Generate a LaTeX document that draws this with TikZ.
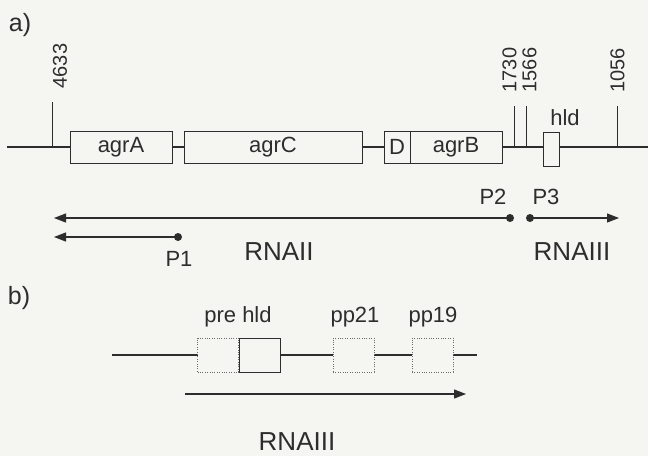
\documentclass[tikz,border=0pt]{standalone}
\usepackage{fontspec}
\setmainfont{Liberation Sans}
\usetikzlibrary{arrows.meta}
\definecolor{bg}{RGB}{245,245,242}
\definecolor{ink}{RGB}{45,45,45}
\newcommand\lblfont{\fontsize{22}{24}\selectfont}
\newcommand\numfont{\fontsize{20}{22}\selectfont}
\newcommand\rnafont{\fontsize{26}{28}\selectfont}
\newcommand\partfont{\fontsize{25}{27}\selectfont}
\begin{document}
\begin{tikzpicture}[x=1pt,y=-1pt,
  line/.style={draw=ink, line width=1.2pt},
  gene/.style={draw=ink, fill=bg, line width=1pt, minimum height=32pt, inner sep=0pt, font=\lblfont, text=ink},
  dotbox/.style={draw=ink!70, fill=bg, line width=0.8pt, dash pattern=on 1pt off 1.4pt, minimum width=41pt, minimum height=34pt, inner sep=0pt},
  lbl/.style={font=\lblfont, text=ink, inner sep=0pt},
  part/.style={font=\partfont, text=ink, inner sep=0pt},
  num/.style={font=\numfont, text=ink, inner sep=0pt, rotate=90},
  rna/.style={font=\rnafont, text=ink, inner sep=0pt},
  tx/.style={draw=ink, line width=1.2pt, -{Triangle[length=12pt,width=9pt]}},
  prom/.style={circle, fill=ink, inner sep=0pt, minimum size=8pt}]
\useasboundingbox[fill=bg] (0,0) rectangle (648,456);

% ---------- a) ----------
\node[part] (la) at (20,25) {a)};
\coordinate (L) at (7,147);
\coordinate (R) at (648,147);
\draw[line] (L) -- (R);
\node[gene, minimum width=102pt] (agrA) at (121,147) {agrA};
\node[gene, minimum width=178pt] (agrC) at (273,147) {agrC};
\node[gene, minimum width=26pt] (D) at (397,147) {D};
\node[gene, minimum width=92pt] (agrB) at (456,147) {agrB};
\node[gene, minimum width=16pt, minimum height=34pt] (hldA) at (551,149) {};
\node[lbl] (hldlab) at (565,118) {hld};

% ticks
\coordinate (t1) at (52,102);
\coordinate (t2) at (514,106);
\coordinate (t3) at (526,106);
\coordinate (t4) at (617,106);
\draw[line, line width=0.9pt] (t1) -- (t1 |- L);
\draw[line, line width=0.9pt] (t2) -- (t2 |- L);
\draw[line, line width=0.9pt] (t3) -- (t3 |- L);
\draw[line, line width=0.9pt] (t4) -- (t4 |- L);
\node[num] (n1) at (60,66) {4633};
\node[num] (n2) at (509.5,70) {1730};
\node[num] (n3) at (529.5,70) {1566};
\node[num] (n4) at (617.5,70.5) {1056};

% transcripts
\node[prom] (P2) at (510,218) {};
\node[prom] (P3) at (530,218) {};
\node[prom] (P1) at (178,237) {};
\coordinate (e2) at (54,218);
\coordinate (e3) at (619,218);
\coordinate (e1) at (54,237);
\draw[tx] (P2.center) -- (e2);
\draw[tx] (P3.center) -- (e3);
\draw[tx] (P1.center) -- (e1);
\node[lbl] (lP2) at (493,197) {P2};
\node[lbl] (lP3) at (546,197) {P3};
\node[lbl] (lP1) at (179,259) {P1};
\node[rna] (rna2) at (279,252) {RNAII};
\node[rna] (rna3) at (572,252) {RNAIII};

% ---------- b) ----------
\node[part] (lb) at (19,298) {b)};
\coordinate (bL) at (112,355);
\coordinate (bR) at (477,355);
\draw[line] (bL) -- (bR);
\node[dotbox] (pre) at (218,355) {};
\node[gene, minimum width=41pt, minimum height=34pt] (hldB) at (259.5,355) {};
\node[dotbox] (pp21) at (353.5,355) {};
\node[dotbox] (pp19) at (432.5,355) {};
\node[lbl] (lpre) at (238,317) {pre hld};
\node[lbl] (lpp21) at (355,317) {pp21};
\node[lbl] (lpp19) at (433,317) {pp19};
\coordinate (bs) at (185,394);
\coordinate (be) at (466,394);
\draw[tx] (bs) -- (be);
\node[rna, anchor=base] (rnab) at (297,450) {RNAIII};
\end{tikzpicture}
\end{document}
